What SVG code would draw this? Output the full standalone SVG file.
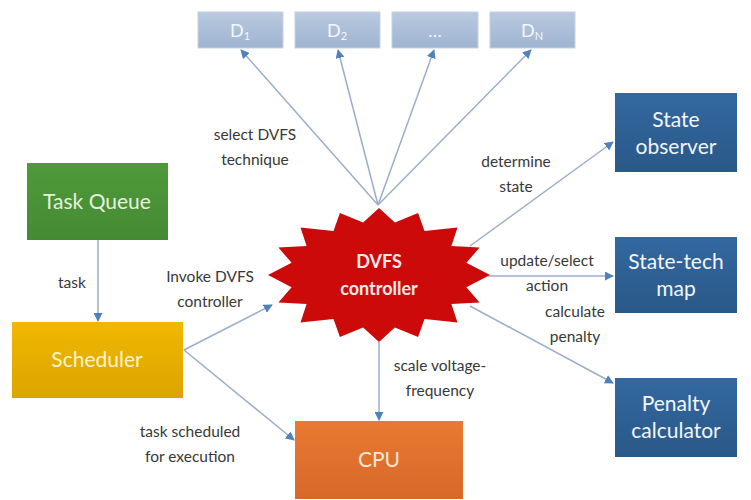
<svg xmlns="http://www.w3.org/2000/svg" width="751" height="500" viewBox="0 0 751 500">
<defs>
<marker id="ah" viewBox="0 0 10 10" refX="9" refY="5" markerWidth="9" markerHeight="9" markerUnits="userSpaceOnUse" orient="auto">
<path d="M0,0 L10,5 L0,10 z" fill="#4f81bd"/>
</marker>
<linearGradient id="gd" x1="0" y1="0" x2="0" y2="1"><stop offset="0" stop-color="#b9c9df"/><stop offset="1" stop-color="#9fb4d2"/></linearGradient>
<linearGradient id="gg" x1="0" y1="0" x2="0" y2="1"><stop offset="0" stop-color="#4f9a3a"/><stop offset="1" stop-color="#458a33"/></linearGradient>
<linearGradient id="gy" x1="0" y1="0" x2="0" y2="1"><stop offset="0" stop-color="#f0b800"/><stop offset="1" stop-color="#dca400"/></linearGradient>
<linearGradient id="go" x1="0" y1="0" x2="0" y2="1"><stop offset="0" stop-color="#e87a32"/><stop offset="1" stop-color="#d8672a"/></linearGradient>
<linearGradient id="gb" x1="0" y1="0" x2="0" y2="1"><stop offset="0" stop-color="#3368a0"/><stop offset="1" stop-color="#2a5888"/></linearGradient>
</defs>
<style>
text{font-family:Lato,"Open Sans","Liberation Sans",sans-serif;text-anchor:middle}
.lbl{font-size:15.5px;fill:#383838}
.bx{font-size:21px}
.d{font-size:18px;fill:#f4f7fb}
.w{fill:#f2f6fa}
.c{stroke:#9aaecb;stroke-width:1.5;fill:none;marker-end:url(#ah)}
</style>
<g id="connectors">
<line class="c" x1="378" y1="205" x2="241" y2="50"/>
<line class="c" x1="378" y1="205" x2="338" y2="50"/>
<line class="c" x1="378" y1="205" x2="434" y2="50"/>
<line class="c" x1="378" y1="205" x2="531" y2="50"/>
<line class="c" x1="98" y1="240" x2="98" y2="321"/>
<line class="c" x1="184" y1="350" x2="272" y2="305"/>
<line class="c" x1="184" y1="350" x2="294" y2="440"/>
<line class="c" x1="379" y1="342" x2="379" y2="420"/>
<line class="c" x1="470" y1="246" x2="613" y2="142"/>
<line class="c" x1="488" y1="276" x2="613" y2="276"/>
<line class="c" x1="470" y1="306" x2="613" y2="383"/>
</g>
<g id="D1"><rect x="198" y="12" width="85" height="36" fill="url(#gd)" stroke="#c5d2e4"/><text class="d" x="240" y="37">D<tspan font-size="11" dy="3">1</tspan></text></g>
<g id="D2"><rect x="295" y="12" width="85" height="36" fill="url(#gd)" stroke="#c5d2e4"/><text class="d" x="337" y="37">D<tspan font-size="11" dy="3">2</tspan></text></g>
<g id="Ddots"><rect x="392" y="12" width="86" height="36" fill="url(#gd)" stroke="#c5d2e4"/><text class="d" x="435" y="37">…</text></g>
<g id="DN"><rect x="490" y="12" width="85" height="36" fill="url(#gd)" stroke="#c5d2e4"/><text class="d" x="532" y="37">D<tspan font-size="11" dy="3">N</tspan></text></g>
<g id="taskqueue"><rect x="27" y="163" width="141" height="77" fill="url(#gg)"/><text class="bx" x="97" y="209" fill="#e6f0de">Task Queue</text></g>
<g id="scheduler"><rect x="12" y="322" width="171" height="76" fill="url(#gy)"/><text class="bx" x="97" y="367" fill="#fff4c8">Scheduler</text></g>
<g id="cpu"><rect x="295" y="421" width="168" height="78" fill="url(#go)"/><text class="bx" x="379" y="467" fill="#fde8d0">CPU</text></g>
<g id="stateobserver"><rect x="615" y="93" width="122" height="79" fill="url(#gb)"/><text class="bx w" x="676" y="127">State</text><text class="bx w" x="676" y="154">observer</text></g>
<g id="statetechmap"><rect x="615" y="237" width="122" height="76" fill="url(#gb)"/><text class="bx w" x="676" y="269">State-tech</text><text class="bx w" x="676" y="296">map</text></g>
<g id="penaltycalc"><rect x="615" y="378" width="122" height="79" fill="url(#gb)"/><text class="bx w" x="676" y="411">Penalty</text><text class="bx w" x="676" y="438">calculator</text></g>
<g id="dvfs">
<polygon fill="#cc0a0a" points="379.0,208.0 394.9,222.5 418.1,213.1 424.5,231.1 457.5,227.6 451.4,245.9 479.6,247.6 466.4,262.8 490.0,275.0 466.4,287.2 479.6,302.4 451.4,304.1 457.5,322.4 424.5,318.9 418.1,336.9 394.9,327.5 379.0,342.0 363.1,327.5 339.9,336.9 333.5,318.9 300.5,322.4 306.6,304.1 278.4,302.4 291.6,287.2 268.0,275.0 291.6,262.8 278.4,247.6 306.6,245.9 300.5,227.6 333.5,231.1 339.9,213.1 363.1,222.5"/>
<text x="379" y="268" font-size="18" font-weight="bold" fill="#fbe9e9">DVFS</text>
<text x="379" y="295" font-size="18" font-weight="bold" fill="#fbe9e9">controller</text>
</g>
<g id="labels">
<text class="lbl" x="255" y="140">select DVFS</text>
<text class="lbl" x="255" y="165">technique</text>
<text class="lbl" x="72" y="288">task</text>
<text class="lbl" x="210" y="282">Invoke DVFS</text>
<text class="lbl" x="210" y="307">controller</text>
<text class="lbl" x="190" y="437">task scheduled</text>
<text class="lbl" x="190" y="462">for execution</text>
<text class="lbl" x="440" y="371">scale voltage-</text>
<text class="lbl" x="440" y="396">frequency</text>
<text class="lbl" x="516" y="167">determine</text>
<text class="lbl" x="516" y="192">state</text>
<text class="lbl" x="547" y="266">update/select</text>
<text class="lbl" x="547" y="291">action</text>
<text class="lbl" x="575" y="317">calculate</text>
<text class="lbl" x="575" y="342">penalty</text>
</g>
</svg>
